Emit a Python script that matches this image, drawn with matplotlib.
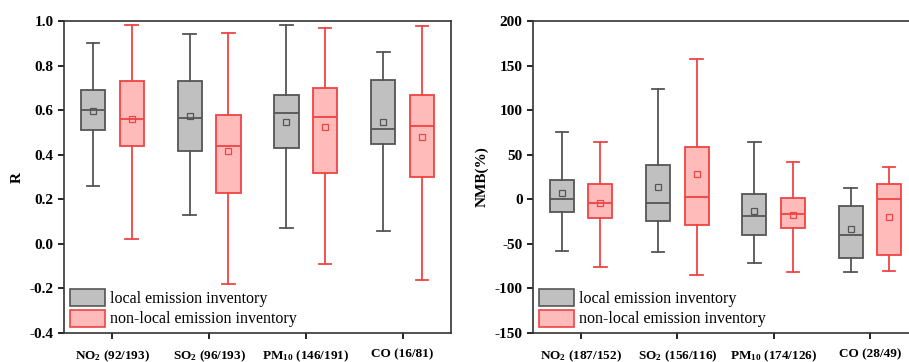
import matplotlib
matplotlib.use("Agg")
import matplotlib.pyplot as plt
from matplotlib.patches import Patch

plt.rcParams['font.family'] = ['Liberation Serif', 'DejaVu Serif']
plt.rcParams['mathtext.fontset'] = 'custom'
plt.rcParams['mathtext.rm'] = 'Liberation Serif:bold'
plt.rcParams['mathtext.it'] = 'Liberation Serif:bold'
plt.rcParams['mathtext.bf'] = 'Liberation Serif:bold'

# ---- data ----
r_labels = ['NO$_2$ (92/193)', 'SO$_2$ (96/193)', 'PM$_{10}$ (146/191)', 'CO (16/81)']
nmb_labels = ['NO$_2$ (187/152)', 'SO$_2$ (156/116)', 'PM$_{10}$ (174/126)', 'CO (28/49)']

# whisker low, q1, median, q3, whisker high, mean
r_local_low = [0.26, 0.13, 0.07, 0.06]
r_local_q1 = [0.51, 0.415, 0.43, 0.45]
r_local_med = [0.60, 0.565, 0.585, 0.515]
r_local_q3 = [0.69, 0.73, 0.67, 0.735]
r_local_high = [0.90, 0.94, 0.98, 0.86]
r_local_mean = [0.594, 0.572, 0.548, 0.545]

r_nonlocal_low = [0.022, -0.18, -0.092, -0.16]
r_nonlocal_q1 = [0.44, 0.23, 0.32, 0.30]
r_nonlocal_med = [0.56, 0.44, 0.57, 0.53]
r_nonlocal_q3 = [0.73, 0.58, 0.70, 0.67]
r_nonlocal_high = [0.98, 0.947, 0.97, 0.976]
r_nonlocal_mean = [0.561, 0.415, 0.525, 0.479]

nmb_local_low = [-58, -59, -72, -81.5]
nmb_local_q1 = [-14.5, -24, -40, -66]
nmb_local_med = [0, -4.7, -19, -40]
nmb_local_q3 = [22, 39, 5.7, -7.7]
nmb_local_high = [76, 124, 64.5, 13]
nmb_local_mean = [7.2, 13.6, -13.4, -32.8]

nmb_nonlocal_low = [-76, -84.5, -82, -80]
nmb_nonlocal_q1 = [-21, -28.3, -32, -63]
nmb_nonlocal_med = [-4.4, 3.1, -16.3, 0.5]
nmb_nonlocal_q3 = [17.7, 58.5, 1.6, 17.7]
nmb_nonlocal_high = [64, 157, 42, 36]
nmb_nonlocal_mean = [-3.6, 28.6, -17.5, -19.7]

gray_face = '#c0c0c0'
gray_edge = '#555555'
red_face = '#ffbaba'
red_edge = '#f04444'


def make_stats(low, q1, med, q3, high, mean):
    return [dict(whislo=a, q1=b, med=c, q3=d, whishi=e, mean=f, fliers=[])
            for a, b, c, d, e, f in zip(low, q1, med, q3, high, mean)]


def draw_boxes(ax, stats, offset, face, edge):
    pos = [i + 1 + offset for i in range(len(stats))]
    ax.bxp(stats, positions=pos, widths=0.25, patch_artist=True,
           showmeans=True, showfliers=False,
           boxprops=dict(facecolor=face, edgecolor=edge, linewidth=1.3),
           medianprops=dict(color=edge, linewidth=1.3),
           whiskerprops=dict(color=edge, linewidth=1.3),
           capprops=dict(color=edge, linewidth=1.3),
           capwidths=0.13,
           meanprops=dict(marker='s', markerfacecolor='none',
                          markeredgecolor=edge, markersize=5, markeredgewidth=0.9))


def style_axes(ax, labels, ylim, yticks, ylabel):
    ax.set_xlim(0.5, 4.5)
    ax.set_ylim(*ylim)
    ax.set_yticks(yticks)
    ax.set_xticks([1, 2, 3, 4])
    ax.set_xticklabels(labels, fontsize=9.5, fontweight='bold')
    ax.tick_params(direction='out', length=4, width=1.2, top=False, right=False)
    ax.tick_params(axis='x', pad=7)
    for s in ax.spines.values():
        s.set_linewidth(1.2)
        s.set_color('#333333')
    ax.set_ylabel(ylabel, fontsize=11, fontweight='bold')
    handles = [Patch(facecolor=gray_face, edgecolor=gray_edge, linewidth=1.2,
                     label='local emission inventory'),
               Patch(facecolor=red_face, edgecolor=red_edge, linewidth=1.2,
                     label='non-local emission inventory')]
    ax.legend(handles=handles, loc='lower left', frameon=False, fontsize=11.5,
              handlelength=2.2, handleheight=1.25, handletextpad=0.3,
              labelspacing=0.15, borderaxespad=0.25, borderpad=0.1)


fig = plt.figure(figsize=(9.09, 3.62), dpi=100)
ax1 = fig.add_axes([0.0704, 0.080, 0.4257, 0.862])
ax2 = fig.add_axes([0.5864, 0.080, 0.4235, 0.862])

draw_boxes(ax1, make_stats(r_local_low, r_local_q1, r_local_med, r_local_q3,
                           r_local_high, r_local_mean), -0.2, gray_face, gray_edge)
draw_boxes(ax1, make_stats(r_nonlocal_low, r_nonlocal_q1, r_nonlocal_med, r_nonlocal_q3,
                           r_nonlocal_high, r_nonlocal_mean), 0.2, red_face, red_edge)
style_axes(ax1, r_labels, (-0.4, 1.0), [-0.4, -0.2, 0.0, 0.2, 0.4, 0.6, 0.8, 1.0], 'R')
ax1.set_yticklabels(['-0.4', '-0.2', '0.0', '0.2', '0.4', '0.6', '0.8', '1.0'],
                    fontweight='bold', fontsize=11)

draw_boxes(ax2, make_stats(nmb_local_low, nmb_local_q1, nmb_local_med, nmb_local_q3,
                           nmb_local_high, nmb_local_mean), -0.2, gray_face, gray_edge)
draw_boxes(ax2, make_stats(nmb_nonlocal_low, nmb_nonlocal_q1, nmb_nonlocal_med, nmb_nonlocal_q3,
                           nmb_nonlocal_high, nmb_nonlocal_mean), 0.2, red_face, red_edge)
style_axes(ax2, nmb_labels, (-150, 200), [-150, -100, -50, 0, 50, 100, 150, 200], 'NMB(%)')
ax2.set_yticklabels(['-150', '-100', '-50', '0', '50', '100', '150', '200'],
                    fontweight='bold', fontsize=11)

fig.savefig('out.png', dpi=100)
